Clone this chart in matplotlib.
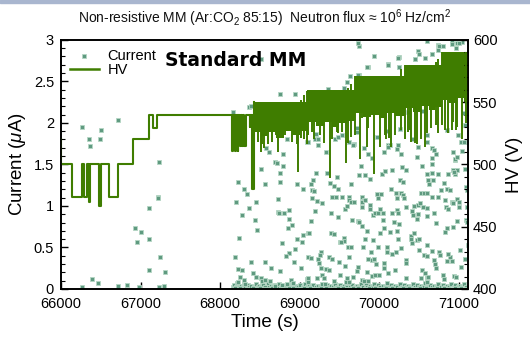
import numpy as np
import matplotlib
matplotlib.use("Agg")
import matplotlib.pyplot as plt
from matplotlib.patches import Rectangle

plt.rcParams['font.family'] = ['Liberation Sans', 'DejaVu Sans']
plt.rcParams['mathtext.fontset'] = 'custom'
plt.rcParams['mathtext.rm'] = 'Liberation Sans'
plt.rcParams['mathtext.it'] = 'Liberation Sans:italic'

# ---- current scatter (time s, current uA)
cur_t = [66268, 66352, 66364, 66490, 66503, 66716, 67227, 67219, 67219, 67111, 66935, 67010,
         66960, 67111, 67244, 67111, 67307, 66385, 66465, 66825, 66717, 66264, 67290, 66975, 67226,
         68157, 68366, 68512, 68751, 68940, 68383, 68290, 68835, 69087, 68571, 68617, 68785,
         68219, 68303, 68336, 68194, 68362, 68445, 68270, 68437, 68462, 68232, 68190, 68387,
         68219, 68278, 68563, 68638, 68253, 68295, 68228, 68311, 68412, 68450, 68508, 68529,
         68563, 68625, 68751, 68512, 68688, 68709, 68789, 68755, 68751, 68563, 68722, 68730,
         68743, 68805, 68860, 68868, 68898, 68852, 68772, 68960, 69032, 69044, 69107, 68944,
         68872, 68822, 68927, 69015, 69107, 68960, 69036, 68885, 68919, 68835, 68772, 69090, 68688,
         69203, 69170, 69140, 69153, 69182, 69157, 69216, 69275, 69191, 69140, 69115, 69145,
         69233, 69262, 69258, 69249, 69262, 69325, 69367, 69283, 69212, 69308, 69107, 69099,
         69346, 69471, 69375, 69430, 69476, 69409, 69455, 69530, 69614, 69564, 69593, 69614,
         69643, 69685, 69647, 69388, 69484, 69660, 69727, 69748, 69786, 69844, 69396, 69434,
         69551, 69559, 69501, 69518, 69601, 69639, 69798, 69823, 69916, 69987, 69890, 70100,
         69367, 69400, 69497, 69568, 69622, 69735, 69723, 69861, 69903, 69932, 69957, 70058,
         70058, 70100, 70041, 70058, 70012, 69844, 69903, 69945, 69995, 69505, 69589, 69580,
         69664, 69777, 69811, 69853, 69618, 69434, 69316, 69819, 69744, 69882, 70033, 70075,
         69769, 69786, 69802, 69781, 69823, 69878, 69886, 69786, 69916, 69945, 69978, 70008,
         69974, 70028, 69978, 70050,
         70280, 70330, 70166, 70259, 70300, 70145, 70208, 70271, 70300, 70229, 70313, 70522,
         70564, 70606, 70665, 70740, 70615, 70623, 70678, 70657, 70657, 70606, 70531, 70740,
         70866, 70929, 70950, 70983, 70958, 70816, 70845, 70891, 70774, 70824, 70908, 70983,
         70837, 70866, 70342, 70414, 70439, 70489, 70510, 70552, 70594, 70682, 70422, 70468,
         70489, 70594, 70154, 70229, 70238, 70187, 70250, 70133, 70217, 70405, 70439, 70405,
         70476, 70502, 70414, 70719, 70845, 70824, 70983, 70238, 70267, 70208, 70154, 70502,
         70564, 70598, 70602, 70657, 70749, 70761, 70682, 70699, 70719, 70845, 70887, 70908,
         70866, 71025, 71076, 70330, 70330, 70342, 70204, 70104, 70531, 70581, 70594, 70615,
         70522, 70594, 70803, 70816, 70941, 70966, 71109, 71096, 71104,
         69744, 69937, 69853, 70104, 69635, 69748, 69589, 69559, 69350, 69203, 69191, 69224,
         69233, 69099, 69450, 69484, 69526, 69622, 69681, 69673, 69723, 69714, 69329, 69811,
         69853, 69903, 70079, 70062, 70113, 69966,
         70489, 70246, 70455, 70581, 70657, 70740, 70803, 70740, 70920, 70971, 71046, 70962,
         70104, 70246, 70259, 70543, 70363, 70133, 70104, 70238, 70217, 70271, 70426, 70489,
         70480, 70594, 70594, 70657, 70690, 70719, 70669, 70845, 70929, 70958, 70991, 71025,
         71084, 71067, 71075,
         69731, 70235, 70497, 70749, 70912, 71000, 69840, 70246, 69735, 70447, 70594, 70669,
         71066, 71046, 70978, 71075, 70941, 71088, 71100, 70930, 71006, 71006, 70929, 71100,
         71013, 71075]
cur_i = [1.95, 1.80, 1.72, 1.80, 1.91, 2.03, 1.53, 1.11, 1.09, 0.97, 0.74, 0.69,
         0.56, 0.60, 0.38, 0.23, 0.20, 0.12, 0.07, 0.05, 0.04, 0.02, 0.04, 0.02, 0.02,
         2.13, 2.19, 2.77, 2.35, 2.35, 2.20, 1.81, 1.81, 1.77, 1.70, 1.65, 1.62,
         1.29, 1.20, 1.14, 1.05, 0.97, 1.05, 0.89, 0.83, 0.71, 0.62, 0.38, 0.33,
         0.24, 0.23, 0.32, 0.25, 0.15, 0.11, 0.09, 0.06, 0.19, 0.14, 0.13, 0.10,
         0.11, 0.10, 0.22, 1.44, 1.53, 1.52, 1.48, 1.40, 1.29, 1.26, 1.08, 0.93,
         0.91, 0.92, 0.95, 0.84, 0.77, 0.73, 0.55, 0.60, 0.57, 0.65, 0.68, 0.48,
         0.43, 0.40, 0.32, 0.25, 0.39, 1.27, 1.21, 0.11, 0.07, 0.06, 0.05, 0.12, 0.04,
         1.40, 1.31, 1.27, 1.19, 1.18, 1.10, 1.06, 1.04, 0.94, 0.82, 0.68, 0.37,
         0.36, 0.45, 0.41, 0.31, 0.25, 0.24, 0.23, 0.17, 0.13, 0.13, 0.13, 0.09,
         1.40, 1.35, 1.28, 1.24, 1.20, 1.11, 1.11, 1.11, 1.11, 0.96, 1.00, 1.07,
         1.05, 1.05, 1.27, 0.92, 0.87, 0.83, 0.82, 0.81, 0.76, 0.70, 0.68, 0.66,
         0.62, 0.58, 0.56, 0.57, 0.50, 0.50, 0.51, 0.60, 0.59, 0.51, 0.45, 0.45,
         0.38, 0.36, 0.32, 0.28, 0.38, 0.27, 0.22, 0.36, 0.35, 0.36, 0.30, 0.31,
         0.25, 0.51, 0.83, 0.73, 0.68, 0.21, 0.16, 0.17, 0.17, 0.17, 0.13, 0.09,
         0.14, 0.11, 0.10, 0.10, 0.09, 0.10, 0.06, 1.37, 1.37, 1.33, 1.39, 1.42,
         1.48, 1.11, 1.07, 1.05, 1.07, 1.01, 0.96, 0.99, 0.89, 0.92, 0.92, 0.96,
         1.14, 1.14, 1.09, 0.91,
         1.47, 1.43, 1.43, 1.31, 1.29, 1.21, 1.16, 1.15, 1.13, 1.10, 1.10, 1.16,
         1.15, 1.15, 1.11, 1.11, 1.31, 1.27, 1.31, 1.40, 1.51, 1.39, 1.48, 1.39,
         1.39, 1.43, 1.39, 1.43, 1.55, 1.28, 1.20, 1.19, 1.19, 1.07, 1.05, 1.08,
         0.99, 0.96, 0.99, 0.94, 1.00, 1.01, 1.04, 0.99, 0.98, 0.92, 0.89, 0.84,
         0.90, 0.88, 0.91, 0.95, 0.91, 0.81, 0.78, 0.69, 0.70, 0.64, 0.68, 0.60,
         0.59, 0.60, 0.55, 0.79, 0.73, 0.69, 0.82, 0.60, 0.49, 0.45, 0.42, 0.47,
         0.41, 0.40, 0.53, 0.46, 0.45, 0.41, 0.35, 0.30, 0.25, 0.34, 0.38, 0.34,
         0.42, 0.27, 0.36, 0.35, 0.31, 0.13, 0.23, 0.19, 0.23, 0.19, 0.15, 0.15,
         0.13, 0.09, 0.17, 0.12, 0.16, 0.14, 0.53, 0.83, 0.99,
         2.92, 2.80, 2.67, 2.71, 2.57, 2.58, 2.49, 2.42, 2.41, 1.87, 1.81, 1.81,
         1.73, 1.77, 1.81, 1.83, 1.86, 1.77, 1.75, 1.73, 1.94, 1.89, 1.65, 1.70,
         1.63, 1.58, 1.90, 1.65, 1.73, 1.83,
         2.87, 2.79, 2.77, 2.78, 2.83, 2.94, 2.92, 2.88, 2.99, 2.96, 2.97, 2.90,
         2.70, 2.67, 1.93, 2.14, 2.13, 1.73, 1.71, 1.73, 1.69, 1.63, 1.81, 1.71,
         1.59, 1.86, 1.77, 1.70, 1.67, 1.63, 1.58, 1.92, 1.65, 1.57, 1.86, 1.77,
         1.77, 2.12, 1.98,
         2.96, 2.78, 2.83, 2.93, 2.95, 2.96, 2.67, 2.67, 2.58, 2.77, 2.98, 2.83,
         1.77, 1.66, 1.59, 1.45, 1.41, 1.23, 1.19, 1.03, 1.05, 0.99, 0.75, 0.81,
         0.47, 0.36]

# near-zero current readings
low_t = [68160, 68178, 68201, 68214, 68236, 68259, 68283, 68297, 68318, 68349, 68366, 68392,
         68421, 68447, 68470, 68488, 68517, 68541, 68566, 68597, 68612, 68643, 68668, 68694,
         68727, 68741, 68770, 68798, 68823, 68856, 68874, 68901, 68933, 68952, 68981, 69010,
         69038, 69066, 69093, 69119, 69148, 69170, 69205, 69228, 69257, 69281, 69312, 69339,
         69362, 69393, 69418, 69449, 69468, 69503, 69526, 69552, 69583, 69609, 69631, 69662,
         69690, 69716, 69748, 69771, 69799, 69828, 69852, 69884, 69909, 69933, 69962, 69987,
         70014, 70043, 70069, 70096, 70121, 70149, 70177, 70203, 70229, 70261, 70284, 70310,
         70342, 70366, 70391, 70419, 70447, 70471, 70502, 70527, 70553, 70580, 70611, 70636,
         70660, 70688, 70716, 70742, 70771, 70796, 70823, 70852, 70879, 70903, 70934, 70958,
         70985, 71012, 71040, 71066, 71093,
         68190, 68245, 68335, 68408, 68503, 68580, 68655, 68716, 68785, 68862, 68917, 68995,
         69052, 69134, 69193, 69268, 69327, 69405, 69485, 69540, 69596, 69676, 69735, 69815,
         69870, 69948, 70028, 70083, 70163, 70245, 70298, 70378, 70433, 70515, 70592, 70672,
         70729, 70810, 70866, 70946, 71025, 71080]
low_i = [0.03, 0.05, 0.02, 0.07, 0.03, 0.04, 0.02, 0.06, 0.03, 0.05, 0.02, 0.04,
         0.03, 0.06, 0.02, 0.04, 0.03, 0.05, 0.02, 0.07, 0.03, 0.04, 0.02, 0.05,
         0.03, 0.06, 0.02, 0.04, 0.03, 0.05, 0.02, 0.07, 0.03, 0.04, 0.02, 0.05,
         0.03, 0.06, 0.02, 0.04, 0.03, 0.05, 0.02, 0.04, 0.03, 0.06, 0.02, 0.05,
         0.03, 0.04, 0.02, 0.06, 0.03, 0.05, 0.02, 0.04, 0.03, 0.07, 0.02, 0.05,
         0.03, 0.04, 0.02, 0.06, 0.03, 0.05, 0.02, 0.04, 0.03, 0.06, 0.02, 0.05,
         0.03, 0.04, 0.02, 0.07, 0.03, 0.05, 0.02, 0.04, 0.03, 0.06, 0.02, 0.05,
         0.03, 0.04, 0.02, 0.06, 0.03, 0.05, 0.02, 0.04, 0.03, 0.07, 0.02, 0.05,
         0.03, 0.04, 0.02, 0.06, 0.03, 0.05, 0.02, 0.04, 0.03, 0.06, 0.02, 0.05,
         0.03, 0.04, 0.02, 0.06, 0.03,
         0.01, 0.01, 0.00, 0.01, 0.01, 0.00, 0.01, 0.01, 0.00, 0.01, 0.01, 0.00,
         0.01, 0.01, 0.00, 0.01, 0.01, 0.00, 0.01, 0.01, 0.00, 0.01, 0.01, 0.00,
         0.01, 0.01, 0.00, 0.01, 0.01, 0.00, 0.01, 0.01, 0.00, 0.01, 0.01, 0.00,
         0.01, 0.01, 0.00, 0.01, 0.01, 0.00]

# ---- HV step trace before the dense part (time s, volts)
hv_t = [66000, 66005, 66134, 66268, 66290, 66330, 66350, 66362, 66480, 66500, 66607, 66720,
        66909, 67106, 67160, 67210, 68152, 68158, 68192, 68198, 68225, 68230, 68255, 68262,
        68280, 68284, 68297, 68326, 68372, 68378, 68400, 68412, 68418, 68430]
hv_v = [520, 500, 474, 500, 474, 500, 470, 500, 467, 500, 474, 500,
        520, 540, 529, 540, 511, 540, 511, 540, 511, 540, 515, 540,
        515, 540, 515, 540, 530, 540, 480, 540, 480, 550]

# dense HV band: top setpoint and lower edge of the fast fluctuations
band_t = [68430, 68520, 68600, 68700, 68800, 68900, 69000, 69094, 69200, 69300, 69400, 69500,
          69600, 69693, 69800, 69900, 70000, 70100, 70200, 70322, 70420, 70520, 70620, 70700,
          70783, 70880, 70980, 71060, 71115]
band_hi = [550, 550, 550, 550, 550, 550, 550, 560, 560, 560, 560, 560,
           560, 571, 571, 571, 571, 571, 571, 580, 580, 580, 580, 580,
           590, 590, 590, 590, 590]
band_lo = [526, 523, 526, 521, 527, 524, 527, 534, 531, 534, 530, 533,
           535, 541, 538, 540, 537, 541, 539, 545, 542, 547, 544, 546,
           552, 549, 553, 550, 550]

# downward HV trips inside the dense part (time s, lowest volts)
spike_t = [68479, 68509, 68521, 68554, 68596, 68647, 68697, 68730, 68739, 68814, 68898, 68961,
           68981, 69015, 69050, 69086, 69107, 69157, 69176, 69253, 69300, 69380, 69405, 69463,
           69485, 69526, 69580, 69610, 69640, 69694, 69756, 69786, 69840, 69861, 69936, 70006,
           70070, 70090, 70120, 70150, 70196, 70271, 70320, 70355, 70385, 70397, 70445, 70480,
           70530, 70575, 70594, 70648, 70719, 70740, 70791, 70825, 70858, 70910, 70929, 70970,
           70983, 71034, 71096]
spike_v = [518, 510, 516, 513, 516, 518, 524, 510, 521, 524, 518, 516,
           494, 521, 520, 516, 524, 526, 520, 524, 517, 489, 520, 526,
           525, 526, 501, 517, 522, 524, 504, 537, 514, 529, 492, 514,
           524, 520, 521, 514, 524, 528, 520, 526, 528, 518, 517, 516,
           520, 514, 525, 529, 532, 525, 532, 528, 525, 528, 534, 528,
           530, 520, 533]

green = '#3f7d00'
pt_face = '#5f9a80'
pt_edge = '#b5d6c4'

fig = plt.figure(figsize=(5.30, 3.39), dpi=100)
ax = fig.add_axes([0.115, 0.1475, 0.768, 0.735])
ax2 = ax.twinx()

ax.scatter(low_t, low_i, marker='s', s=11, c=pt_face, edgecolors=pt_edge, linewidths=0.6, zorder=2)
ax.scatter(cur_t, cur_i, marker='s', s=11, c=pt_face, edgecolors=pt_edge, linewidths=0.6, zorder=2)

ax2.step(hv_t, hv_v, where='post', color=green, lw=1.5)
ax2.fill_between(band_t, band_lo, band_hi, step='post', color=green, lw=0)
spike_top = np.interp(spike_t, band_t, band_hi)
ax2.vlines(spike_t, spike_v, spike_top, color=green, lw=1.4)

ax.set_xlim(66000, 71115)
ax.set_ylim(0, 3)
ax2.set_ylim(400, 600)
ax.set_xticks([66000, 67000, 68000, 69000, 70000, 71000])
ax.set_yticks([0, 0.5, 1, 1.5, 2, 2.5, 3])
ax.set_yticklabels(['0', '0.5', '1', '1.5', '2', '2.5', '3'])
ax.set_yticks(np.arange(0, 3.01, 0.1), minor=True)
ax2.set_yticks([400, 450, 500, 550, 600])
ax2.set_yticks(np.arange(400, 601, 10), minor=True)

for a in (ax, ax2):
    a.tick_params(direction='in', labelsize=10.5, length=5, width=1.0)
    a.tick_params(which='minor', direction='in', length=3, width=0.8)
    for s in a.spines.values():
        s.set_linewidth(1.2)
ax.tick_params(axis='x', pad=6)
ax.tick_params(axis='y', pad=5)

ax.set_xlabel('Time (s)', fontsize=13.5, labelpad=2)
ax.set_ylabel(r'Current ($\mu$A)', fontsize=13.5, labelpad=4)
ax2.set_ylabel('HV (V)', fontsize=13.5, labelpad=6)

ax.set_title(r'Non-resistive MM (Ar:CO$_2$ 85:15)  Neutron flux ≈ 10$^6$ Hz/cm$^2$',
             fontsize=10, pad=12, color='#111111')

ax.text(0.255, 0.918, 'Standard MM', transform=ax.transAxes, fontsize=13.5,
        fontweight='bold', family='DejaVu Sans', va='center')

h1 = ax.scatter([], [], marker='s', s=11, c=pt_face, edgecolors=pt_edge, linewidths=0.6)
h2, = ax2.plot([], [], color=green, lw=1.8)
ax2.legend([h1, h2], ['Current', 'HV'], loc='upper left', frameon=False, fontsize=10.5,
           handlelength=2.0, borderaxespad=0.2, labelspacing=0.05, handletextpad=0.6,
           bbox_to_anchor=(0.0, 1.0))

fig.patches.append(Rectangle((0, 0.991), 1, 0.009, transform=fig.transFigure,
                             color='#a9b6cf', zorder=0))

fig.savefig('out.png', dpi=100)
